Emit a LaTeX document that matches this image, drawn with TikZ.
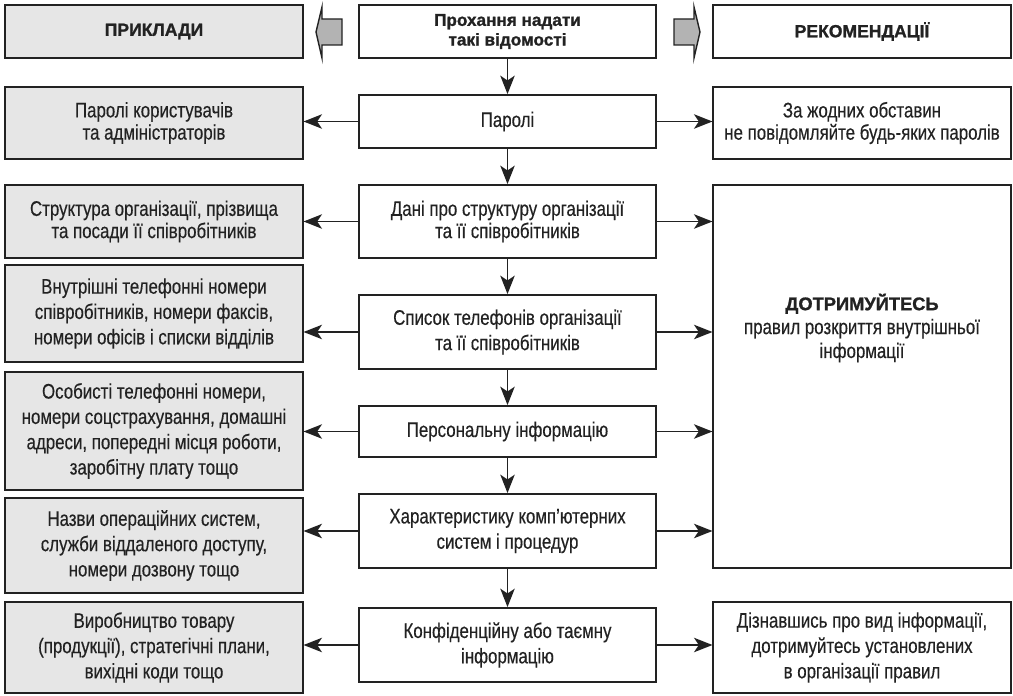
\documentclass[tikz,border=0pt]{standalone}
\usepackage{fontspec}
\setmainfont{Liberation Sans}[FakeStretch=0.8, FakeBold=0.35]
\newfontfamily\headfont{Liberation Sans}[BoldFeatures={FakeBold=1.2}]
\usetikzlibrary{arrows.meta}

\definecolor{inkgray}{HTML}{222222}
\definecolor{boxgray}{HTML}{E6E6E6}
\definecolor{arrowgray}{HTML}{B3B3B3}

\tikzset{
    box/.style={draw=inkgray, line width=1.3pt, text=inkgray, fill=white, align=center,
        inner sep=0pt, minimum width=7.43cm, font=\fontsize{15}{18}\selectfont},
    example/.style={box, fill=boxgray},
    tight/.style={font=\fontsize{15}{15.8}\selectfont},
    heading/.style={font=\fontsize{12.5}{14.5}\selectfont\headfont\bfseries},
    link/.style={draw=inkgray, line width=1.3pt, -{Stealth[length=4.6mm, width=3.6mm, inset=1.2mm]}},
    blockarrow/.style={draw=inkgray, fill=arrowgray, line width=1pt},
}

\begin{document}
\begin{tikzpicture}[x=0.025cm, y=-0.025cm]
        \useasboundingbox (0,0) rectangle (1013,696);

        \node[example, heading, minimum height=1.325cm] (lhead) at (154,31.5) {ПРИКЛАДИ};
        \node[box, heading, font=\fontsize{12.2}{14}\selectfont\headfont\bfseries, minimum height=1.325cm] (mhead) at (507.5,31.5) {Прохання надати\\такі відомості};
        \node[box, heading, minimum height=1.325cm] (rhead) at (862,31.5) {РЕКОМЕНДАЦІЇ};

        \draw[blockarrow] (342,19) -- (322,19) -- (322,7) -- (316,32) -- (322,58) -- (322,45) -- (342,45) -- cycle;
        \draw[blockarrow] (674,19) -- (694,19) -- (694,7) -- (700,32) -- (694,58) -- (694,45) -- (674,45) -- cycle;

        \node[box, minimum height=1.325cm] (mpass) at (507.5,121.5) {Паролі};
        \node[box, tight, minimum height=1.825cm] (mstruct) at (507.5,221.5) {Дані про структуру організації\\та її співробітників};
        \node[box, minimum height=1.85cm] (mphones) at (507.5,332) {Список телефонів організації\\та її співробітників};
        \node[box, minimum height=1.275cm] (mpersonal) at (507.5,431.5) {Персональну інформацію};
        \node[box, minimum height=1.85cm] (msystems) at (507.5,531) {Характеристику комп’ютерних\\систем і процедур};
        \node[box, minimum height=1.85cm] (msecret) at (507.5,645) {Конфіденційну або таємну\\інформацію};

        \node[example, tight, minimum height=1.8cm] (lpass) at (154,123) {Паролі користувачів\\та адміністраторів};
        \node[example, tight, minimum height=1.825cm] (lstruct) at (154,221.5) {Структура організації, прізвища\\та посади її співробітників};
        \node[example, minimum height=2.425cm] (lphones) at (154,313.5) {Внутрішні телефонні номери\\співробітників, номери факсів,\\номери офісів і списки відділів};
        \node[example, minimum height=2.95cm] (lpersonal) at (154,431) {Особисті телефонні номери,\\номери соцстрахування, домашні\\адреси, попередні місця роботи,\\заробітну плату тощо};
        \node[example, minimum height=2.375cm] (lsystems) at (154,545.5) {Назви операційних систем,\\служби віддаленого доступу,\\номери дозвону тощо};
        \node[example, minimum height=2.275cm] (lsecret) at (154,647.5) {Виробництво товару\\(продукції), стратегічні плани,\\вихідні коди тощо};

        \node[box, tight, minimum height=1.8cm] (rpass) at (862,123) {За жодних обставин\\не повідомляйте будь-яких паролів};
        \node[box, minimum height=9.575cm] (rules) at (862,376.5) {};
        \node[text=inkgray, align=center, font=\fontsize{15}{17}\selectfont] (rulestext) at (862,328)
            {{\fontsize{13}{17}\selectfont\headfont\bfseries ДОТРИМУЙТЕСЬ}\\правил розкриття внутрішньої\\інформації};
        \node[box, minimum height=2.275cm] (rsecret) at (862,647.5) {Дізнавшись про вид інформації,\\дотримуйтесь установлених\\в організації правил};

        \draw[link] (mhead) -- (mpass);
        \draw[link] (mpass) -- (mstruct);
        \draw[link] (mstruct) -- (mphones);
        \draw[link] (mphones) -- (mpersonal);
        \draw[link] (mpersonal) -- (msystems);
        \draw[link] (msystems) -- (msecret);

        \draw[link] (mpass.west) -- (mpass.west -| lpass.east);
        \draw[link] (mstruct.west) -- (mstruct.west -| lstruct.east);
        \draw[link] (mphones.west) -- (mphones.west -| lphones.east);
        \draw[link] (mpersonal.west) -- (mpersonal.west -| lpersonal.east);
        \draw[link] (msystems.west) -- (msystems.west -| lsystems.east);
        \draw[link] (msecret.west) -- (msecret.west -| lsecret.east);

        \draw[link] (mpass.east) -- (mpass.east -| rpass.west);
        \draw[link] (mstruct.east) -- (mstruct.east -| rules.west);
        \draw[link] (mphones.east) -- (mphones.east -| rules.west);
        \draw[link] (mpersonal.east) -- (mpersonal.east -| rules.west);
        \draw[link] (msystems.east) -- (msystems.east -| rules.west);
        \draw[link] (msecret.east) -- (msecret.east -| rsecret.west);
\end{tikzpicture}
\end{document}
